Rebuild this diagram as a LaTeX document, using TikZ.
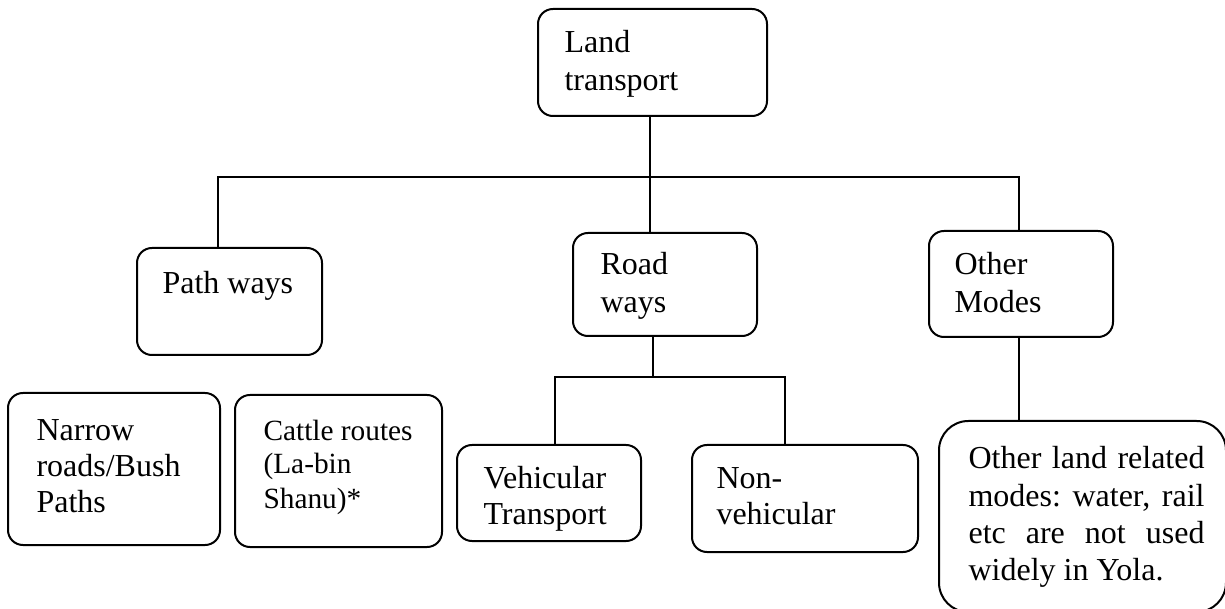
\documentclass[tikz,border=0pt]{standalone}
\usepackage{fontspec}
\setmainfont{Liberation Serif}
\def\PX{0.375pt}
\newcommand\lines[1]{\begin{tabular}[t]{@{}l@{}}#1\end{tabular}}
\tikzset{
  box/.style={draw, line width=0.75pt, rounded corners=5.6pt, inner sep=0pt},
  txt/.style={inner sep=0pt, anchor=base west},
  conn/.style={draw, line width=0.6pt}
}
\begin{document}
\begin{tikzpicture}[x=0.375pt, y=-0.375pt]
\useasboundingbox (0,0) rectangle (1225,609);
\clip (0,0) rectangle (1225,609);
% boxes
\node[box, minimum width=229*\PX, minimum height=107*\PX] (land) at (652.5,62.5) {};
\node[box, minimum width=185*\PX, minimum height=107*\PX] (path) at (229.5,301.5) {};
\node[box, minimum width=184*\PX, minimum height=103*\PX] (road) at (665,284.5) {};
\node[box, minimum width=184*\PX, minimum height=106*\PX] (other) at (1021,284) {};
\node[box, minimum width=212*\PX, minimum height=152*\PX] (narrow) at (114,469) {};
\node[box, minimum width=207*\PX, minimum height=152*\PX] (cattle) at (338.5,471) {};
\node[box, minimum width=184*\PX, minimum height=96*\PX] (veh) at (549,493) {};
\node[box, minimum width=226*\PX, minimum height=107*\PX] (nonveh) at (805,498.5) {};
\node[box, rounded corners=11pt, minimum width=287*\PX, minimum height=191*\PX] (big) at (1082.5,516.5) {};
% texts
\node[txt, font=\fontsize{12}{14.25}\selectfont] (tland) at (564,53) {\lines{Land\\transport}};
\node[txt, font=\fontsize{12}{14.25}\selectfont] (tpath) at (162,294) {Path ways};
\node[txt, font=\fontsize{12}{14}\selectfont] (troad) at (600,275) {\lines{Road\\ways}};
\node[txt, font=\fontsize{12}{14}\selectfont] (tother) at (954,275) {\lines{Other\\Modes}};
\node[txt, font=\fontsize{12}{13.5}\selectfont] (tnarrow) at (36,441) {\lines{Narrow\\roads/Bush\\Paths}};
\node[txt, font=\fontsize{11}{12.75}\selectfont] (tcattle) at (263,440) {\lines{Cattle routes\\(La-bin\\Shanu)*}};
\node[txt, font=\fontsize{12}{13.5}\selectfont] (tveh) at (483,488) {\lines{Vehicular\\Transport}};
\node[txt, font=\fontsize{12}{13.5}\selectfont] (tnonveh) at (716,488) {\lines{Non-\\vehicular}};
\node[txt, font=\fontsize{12}{13.9}\selectfont] (tbig) at (968,469)
  {\parbox[t]{88.5pt}{Other\hfill land\hfill related\\modes:\hfill water,\hfill rail\\etc\hfill are\hfill not\hfill used\\widely in Yola.}};
% junction coordinates
\coordinate (j1) at (650,177);
\coordinate (pl) at (218,177);
\coordinate (pr) at (1019,177);
\coordinate (rj) at (653,377);
\coordinate (vl) at (555,377);
\coordinate (vr) at (785,377);
% connectors
\path[conn] (land.south -| j1) -- (j1 |- road.north);
\path[conn] (pl |- path.north) -- (pl) -- (pr) -- (pr |- other.north);
\path[conn] (other.south -| pr) -- (pr |- big.north);
\path[conn] (road.south -| rj) -- (rj);
\path[conn] (vl |- veh.north) -- (vl) -- (vr) -- (vr |- nonveh.north);
\end{tikzpicture}
\end{document}
